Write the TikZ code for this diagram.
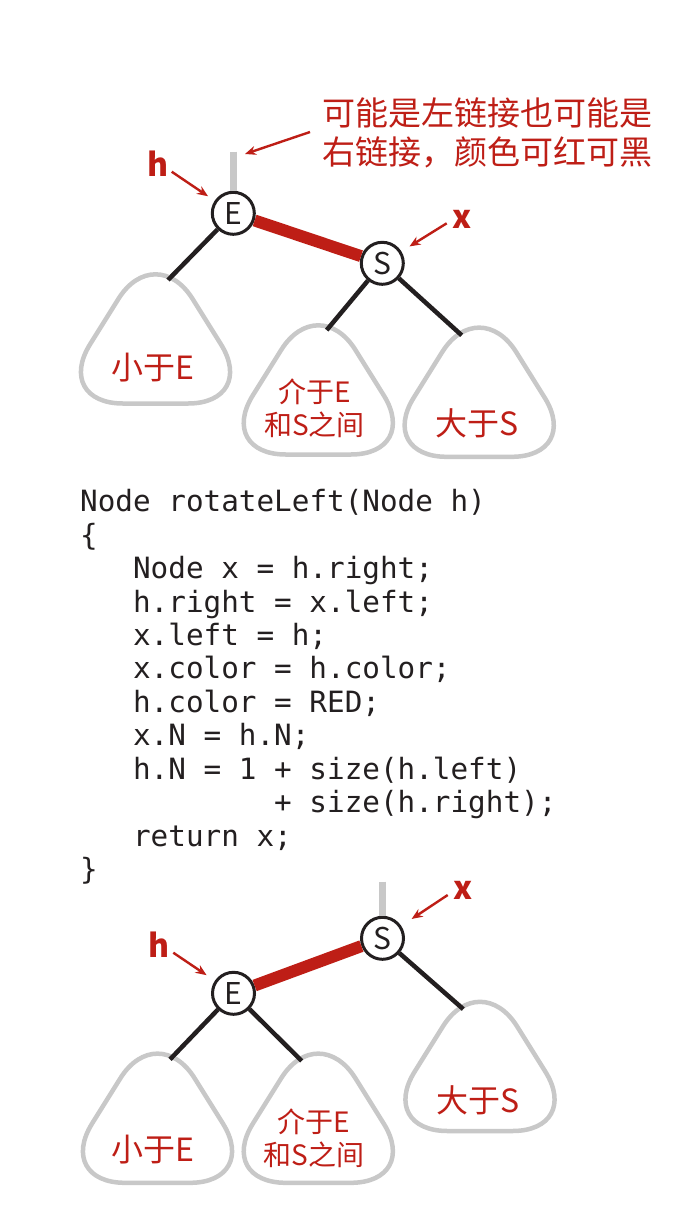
\documentclass[tikz,border=0pt]{standalone}
\usepackage{fontspec}
\newfontfamily\cjk{Noto Sans CJK SC}
\newfontfamily\codefont{DejaVu Sans Mono}
\usetikzlibrary{arrows.meta}
\definecolor{rd}{RGB}{190,30,22}
\definecolor{ink}{RGB}{35,31,32}
\definecolor{lgray}{RGB}{200,200,200}
\tikzset{
  vtx/.style={circle, draw=ink, line width=3pt, fill=white, minimum size=42pt, inner sep=0pt, font=\cjk\fontsize{30}{30}\selectfont, text=ink},
  blk/.style={draw=ink, line width=4.5pt},
  redlink/.style={draw=rd, line width=12pt},
  stub/.style={draw=lgray, line width=7.3pt},
  arr/.style={draw=rd, line width=2.4pt, -{Stealth[length=11pt,width=9pt]}},
  lbl/.style={text=rd, font=\cjk\bfseries\fontsize{32}{32}\selectfont, inner sep=0pt},
  subt/.style={draw=lgray, line width=4.5pt, fill=white, line join=round},
  tlab/.style={text=rd, font=\cjk\fontsize{32}{32}\selectfont, inner sep=0pt, align=center},
  tlabs/.style={text=rd, font=\cjk\fontsize{28}{33}\selectfont, inner sep=0pt, align=center},
  codeline/.style={anchor=base west, inner sep=0pt, text=ink, font=\codefont\fontsize{29.3}{33}\selectfont},
}
\newcommand\subtree[2]{%
  \draw[subt, shift={(#1,#2)}] (-32.45,0) -- (32.45,0)
    .. controls (71.11,0) and (85.84,-26.58) .. (65.35,-59.36)
    -- (37.1,-104.59)
    .. controls (16.61,-137.38) and (-16.61,-137.38) .. (-37.1,-104.59)
    -- (-65.35,-59.36)
    .. controls (-85.84,-26.58) and (-71.11,0) .. (-32.45,0) -- cycle;}
\begin{document}
\begin{tikzpicture}[x=1pt,y=-1pt]
\useasboundingbox[fill=white] (0,0) rectangle (700,1208);
% ---------- top tree ----------
\subtree{155.5}{403.5}
\subtree{318.3}{454.5}
\subtree{479.2}{456.8}
\node[tlab] (l1) at (152.5,368) {小于E};
\node[tlabs] (m1) at (314.5,408.5) {介于E\\和S之间};
\node[tlab] (r1) at (477,423.3) {大于S};
\node[vtx] (E1) at (233.3,213.3) {E};
\node[vtx] (S1) at (382.3,263.3) {S};
\coordinate (st1) at (233.3,151.7);
\coordinate (t1a) at (168,280);
\coordinate (t1b) at (326.7,330.1);
\coordinate (t1c) at (461.7,335.3);
\draw[stub] (st1) -- (E1);
\draw[redlink] (E1) -- (S1);
\draw[blk] (E1) -- (t1a);
\draw[blk] (S1) -- (t1b);
\draw[blk] (S1) -- (t1c);
\node[lbl] (h1) at (158.3,163.3) {h};
\node[lbl] (x1) at (461.7,219.3) {x};
\coordinate (ha1) at (171.7,171.7);
\coordinate (xa1) at (446.7,223.3);
\draw[arr, shorten >=8pt] (ha1) -- (E1);
\draw[arr, shorten >=9.5pt] (xa1) -- (S1);
\node[text=rd, font=\cjk\fontsize{33}{39}\selectfont, inner sep=0pt, align=left, anchor=west] (note) at (322,132.5) {可能是左链接也可能是\\右链接，颜色可红可黑};
\coordinate (na) at (310,132);
\coordinate (nb) at (245,154);
\draw[arr] (na) -- (nb);
% ---------- code ----------
\node[codeline] (c1) at (80,511.7) {Node rotateLeft(Node h)};
\node[codeline] (c2) at (80,545.15) {\{};
\node[codeline] (c3) at (132.9,578.6) {Node x = h.right;};
\node[codeline] (c4) at (132.9,612.05) {h.right = x.left;};
\node[codeline] (c5) at (132.9,645.5) {x.left = h;};
\node[codeline] (c6) at (132.9,678.95) {x.color = h.color;};
\node[codeline] (c7) at (132.9,712.4) {h.color = RED;};
\node[codeline] (c8) at (132.9,745.85) {x.N = h.N;};
\node[codeline] (c9) at (132.9,779.3) {h.N = 1 + size(h.left)};
\node[codeline] (c10) at (274.0,812.75) {+ size(h.right);};
\node[codeline] (c11) at (132.9,846.2) {return x;};
\node[codeline] (c12) at (80,879.65) {\}};
% ---------- bottom tree ----------
\subtree{157.5}{1182.8}
\subtree{318.3}{1182.8}
\subtree{480}{1131}
\node[tlab] (l2) at (153.3,1150) {小于E};
\node[tlabs] (m2) at (314,1138.3) {介于E\\和S之间};
\node[tlab] (r2) at (478.3,1100) {大于S};
\node[vtx] (S2) at (382.5,938.3) {S};
\node[vtx] (E2) at (233.5,993.3) {E};
\coordinate (st2) at (382.5,881.7);
\coordinate (t2a) at (170,1059.4);
\coordinate (t2b) at (301.7,1060.9);
\coordinate (t2c) at (463.3,1009.1);
\draw[stub] (st2) -- (S2);
\draw[redlink] (E2) -- (S2);
\draw[blk] (E2) -- (t2a);
\draw[blk] (E2) -- (t2b);
\draw[blk] (S2) -- (t2c);
\node[lbl] (h2) at (159.3,945) {h};
\node[lbl] (x2) at (463.3,890) {x};
\coordinate (ha2) at (173.3,952.7);
\coordinate (xa2) at (447.7,895);
\draw[arr, shorten >=10pt] (ha2) -- (E2);
\draw[arr, shorten >=12.5pt] (xa2) -- (S2);
\end{tikzpicture}
\end{document}
